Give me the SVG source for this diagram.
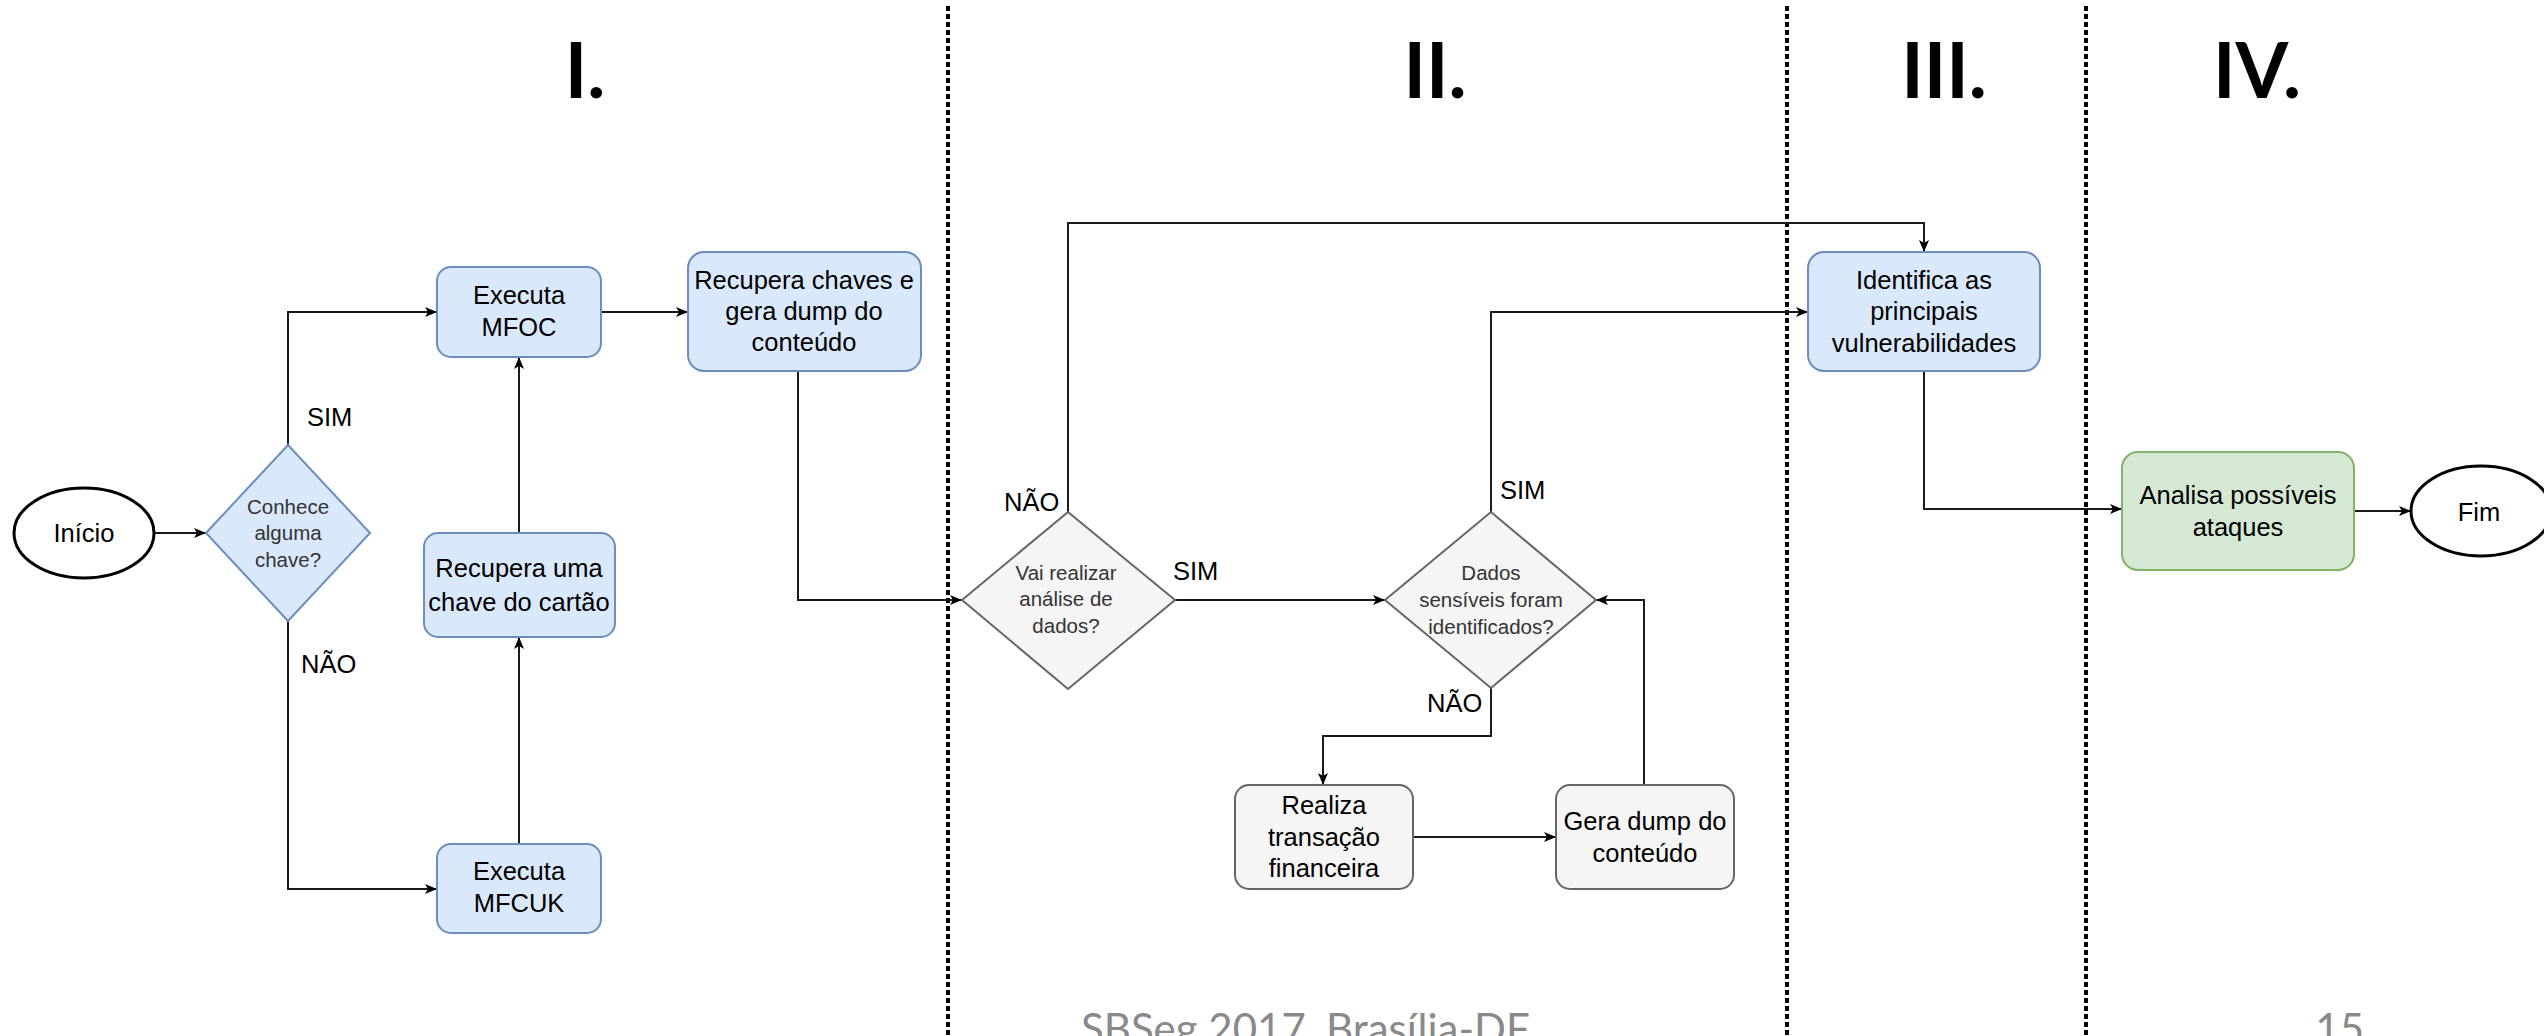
<svg xmlns="http://www.w3.org/2000/svg" width="2544" height="1036" viewBox="0 0 2544 1036">
<style>
  .bg { fill: #ffffff; }
  .divider { stroke: #000000; stroke-width: 4; stroke-dasharray: 5 3; fill: none; }
  .title { font-family: Lato, "Liberation Sans", sans-serif; font-weight: bold; font-size: 76px; fill: #000000; text-anchor: middle; }
  .footer { font-family: Lato, "Liberation Sans", sans-serif; font-size: 42px; fill: #898989; }
  .blue { fill: #dae8fc; stroke: #6c8ebf; stroke-width: 2; }
  .gray { fill: #f5f5f5; stroke: #666666; stroke-width: 2; }
  .green { fill: #d5e8d4; stroke: #82b366; stroke-width: 2; }
  .term { fill: #ffffff; stroke: #000000; stroke-width: 3; }
  .txt { font-family: "Liberation Sans", Arial, sans-serif; font-size: 25.5px; fill: #000000; text-anchor: middle; }
  .dtxt { font-family: "Liberation Sans", Arial, sans-serif; font-size: 20.5px; fill: #333333; text-anchor: middle; }
  .lbl { font-family: "Liberation Sans", Arial, sans-serif; font-size: 25.5px; fill: #000000; }
  .edge { fill: none; stroke: #1a1a1a; stroke-width: 2; marker-end: url(#arrow); }
</style>
<defs>
  <marker id="arrow" viewBox="0 0 12 10" refX="12" refY="5" markerWidth="12" markerHeight="10" markerUnits="userSpaceOnUse" orient="auto">
    <path d="M0,0 L12,5 L0,10 L3,5 Z" fill="#000000"/>
  </marker>
</defs>
<rect class="bg" x="0" y="0" width="2544" height="1036"/>

<g id="phases">
  <line class="divider" x1="948" y1="6" x2="948" y2="1036"/>
  <line class="divider" x1="1787" y1="6" x2="1787" y2="1036"/>
  <line class="divider" x1="2086" y1="6" x2="2086" y2="1036"/>
  <text class="title" x="585" y="98">I.</text>
  <text class="title" x="1435" y="98">II.</text>
  <text class="title" x="1944" y="98">III.</text>
  <text class="title" x="2257" y="98">IV.</text>
</g>

<g id="connectors">
  <path class="edge" d="M154,533 H206"/>
  <path class="edge" d="M288,445 V312 H437"/>
  <path class="edge" d="M288,621 V889 H437"/>
  <path class="edge" d="M519,844 V637"/>
  <path class="edge" d="M519,533 V357"/>
  <path class="edge" d="M601,312 H688"/>
  <path class="edge" d="M798,371 V600 H962"/>
  <path class="edge" d="M1068,512 V223 H1924 V252"/>
  <path class="edge" d="M1175,600 H1385"/>
  <path class="edge" d="M1491,512 V312 H1808"/>
  <path class="edge" d="M1491,688 V736 H1323 V785"/>
  <path class="edge" d="M1413,837 H1556"/>
  <path class="edge" d="M1644,785 V600 H1596"/>
  <path class="edge" d="M1924,371 V509 H2122"/>
  <path class="edge" d="M2354,511 H2411"/>
  <text class="lbl" x="307" y="426">SIM</text>
  <text class="lbl" x="301" y="673">NÃO</text>
  <text class="lbl" x="1004" y="511">NÃO</text>
  <text class="lbl" x="1173" y="580">SIM</text>
  <text class="lbl" x="1500" y="499">SIM</text>
  <text class="lbl" x="1427" y="712">NÃO</text>
</g>

<g id="inicio">
  <ellipse class="term" cx="84" cy="533" rx="70" ry="45"/>
  <text class="txt" x="84" y="542">Início</text>
</g>
<g id="conhece">
  <polygon class="blue" points="206,533 288,445 370,533 288,621"/>
  <text class="dtxt" x="288" y="514">Conhece</text>
  <text class="dtxt" x="288" y="540">alguma</text>
  <text class="dtxt" x="288" y="567">chave?</text>
</g>
<g id="mfoc">
  <rect class="blue" x="437" y="267" width="164" height="90" rx="14"/>
  <text class="txt" x="519" y="304">Executa</text>
  <text class="txt" x="519" y="336">MFOC</text>
</g>
<g id="recupera-uma">
  <rect class="blue" x="424" y="533" width="191" height="104" rx="14"/>
  <text class="txt" x="519" y="577">Recupera uma</text>
  <text class="txt" x="519" y="611">chave do cartão</text>
</g>
<g id="mfcuk">
  <rect class="blue" x="437" y="844" width="164" height="89" rx="14"/>
  <text class="txt" x="519" y="880">Executa</text>
  <text class="txt" x="519" y="912">MFCUK</text>
</g>
<g id="recupera-chaves">
  <rect class="blue" x="688" y="252" width="233" height="119" rx="16"/>
  <text class="txt" x="804" y="289">Recupera chaves e</text>
  <text class="txt" x="804" y="320">gera dump do</text>
  <text class="txt" x="804" y="351">conteúdo</text>
</g>
<g id="vai-realizar">
  <polygon class="gray" points="962,600 1068,512 1175,600 1068,689"/>
  <text class="dtxt" x="1066" y="580">Vai realizar</text>
  <text class="dtxt" x="1066" y="606">análise de</text>
  <text class="dtxt" x="1066" y="633">dados?</text>
</g>
<g id="dados-sensiveis">
  <polygon class="gray" points="1385,600 1491,512 1596,600 1491,688"/>
  <text class="dtxt" x="1491" y="580">Dados</text>
  <text class="dtxt" x="1491" y="607">sensíveis foram</text>
  <text class="dtxt" x="1491" y="634">identificados?</text>
</g>
<g id="realiza">
  <rect class="gray" x="1235" y="785" width="178" height="104" rx="14"/>
  <text class="txt" x="1324" y="814">Realiza</text>
  <text class="txt" x="1324" y="846">transação</text>
  <text class="txt" x="1324" y="877">financeira</text>
</g>
<g id="gera-dump">
  <rect class="gray" x="1556" y="785" width="178" height="104" rx="14"/>
  <text class="txt" x="1645" y="830">Gera dump do</text>
  <text class="txt" x="1645" y="862">conteúdo</text>
</g>
<g id="identifica">
  <rect class="blue" x="1808" y="252" width="232" height="119" rx="16"/>
  <text class="txt" x="1924" y="289">Identifica as</text>
  <text class="txt" x="1924" y="320">principais</text>
  <text class="txt" x="1924" y="352">vulnerabilidades</text>
</g>
<g id="analisa">
  <rect class="green" x="2122" y="452" width="232" height="118" rx="16"/>
  <text class="txt" x="2238" y="504">Analisa possíveis</text>
  <text class="txt" x="2238" y="536">ataques</text>
</g>
<g id="fim">
  <ellipse class="term" cx="2481" cy="511" rx="70" ry="45"/>
  <text class="txt" x="2479" y="521">Fim</text>
</g>

<g id="footer">
  <text class="footer" x="1081" y="1044">SBSeg 2017, Brasília-DF</text>
  <text class="footer" x="2364" y="1044" text-anchor="end">15</text>
</g>
</svg>
